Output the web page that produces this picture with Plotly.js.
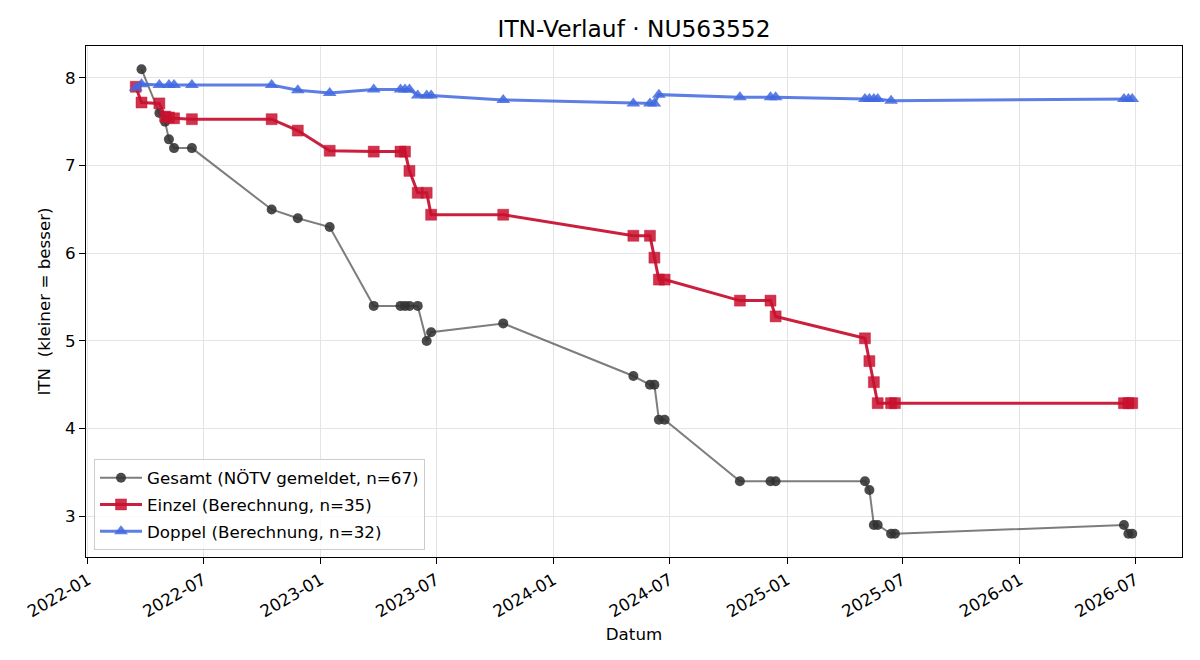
<!DOCTYPE html>
<html>
<head>
<meta charset="utf-8">
<script src="https://cdn.plot.ly/plotly-3.0.1.min.js"></script>
<style>
  html, body { margin: 0; padding: 0; background: #fff; }
  #chart { width: 1200px; height: 660px; }
</style>
</head>
<body>
<div id="chart"></div>
<script>
// ITN history: reported overall rating plus computed singles/doubles ratings.
// Note: gesamt* holds one entry per distinct date (34 points); same-day repeats
// behind the legend's n=67 are not listed, so the drawn line is unchanged.
const gesamtDates = [
  '2022-03-26','2022-04-23','2022-05-02','2022-05-08','2022-05-16','2022-06-13',
  '2022-10-16','2022-11-26','2023-01-15','2023-03-25','2023-05-06','2023-05-13',
  '2023-05-20','2023-06-02','2023-06-16','2023-06-23','2023-10-14','2024-05-05',
  '2024-05-31','2024-06-07','2024-06-14','2024-06-23','2024-10-19','2024-12-06',
  '2024-12-14','2025-05-03','2025-05-10','2025-05-17','2025-05-23','2025-06-13',
  '2025-06-19','2026-06-13','2026-06-20','2026-06-26'
];
const gesamtItn = [
  8.1, 7.6, 7.5, 7.3, 7.2, 7.2,
  6.5, 6.4, 6.3, 5.4, 5.4, 5.4,
  5.4, 5.4, 5.0, 5.1, 5.2, 4.6,
  4.5, 4.5, 4.1, 4.1, 3.4, 3.4,
  3.4, 3.4, 3.3, 2.9, 2.9, 2.8,
  2.8, 2.9, 2.8, 2.8
];

const einzelDates = [
  '2022-03-17','2022-03-26','2022-04-23','2022-05-02','2022-05-08','2022-05-16',
  '2022-06-13','2022-10-16','2022-11-26','2023-01-15','2023-03-25','2023-05-06',
  '2023-05-13','2023-05-20','2023-06-02','2023-06-16','2023-06-23','2023-10-14',
  '2024-05-05','2024-05-31','2024-06-07','2024-06-14','2024-06-23','2024-10-19',
  '2024-12-06','2024-12-14','2025-05-03','2025-05-10','2025-05-17','2025-05-23',
  '2025-06-13','2025-06-19','2026-06-13','2026-06-20','2026-06-26'
];
const einzelItn = [
  7.90, 7.72, 7.71, 7.56, 7.55, 7.54,
  7.53, 7.53, 7.40, 7.17, 7.16, 7.16,
  7.16, 6.94, 6.69, 6.69, 6.44, 6.44,
  6.20, 6.20, 5.95, 5.70, 5.70, 5.46,
  5.46, 5.28, 5.03, 4.77, 4.53, 4.29,
  4.29, 4.29, 4.29, 4.29, 4.29
];

const doppelDates = [
  '2022-03-17','2022-03-26','2022-04-23','2022-05-08','2022-05-16','2022-06-13',
  '2022-10-16','2022-11-26','2023-01-15','2023-03-25','2023-05-06','2023-05-13',
  '2023-05-20','2023-06-02','2023-06-16','2023-06-23','2023-10-14','2024-05-05',
  '2024-05-31','2024-06-07','2024-06-14','2024-10-19','2024-12-06','2024-12-14',
  '2025-05-03','2025-05-10','2025-05-17','2025-05-23','2025-06-13','2026-06-13',
  '2026-06-20','2026-06-26'
];
const doppelItn = [
  7.89, 7.93, 7.92, 7.92, 7.92, 7.92,
  7.92, 7.86, 7.83, 7.87, 7.87, 7.87,
  7.87, 7.80, 7.80, 7.80, 7.75, 7.71,
  7.71, 7.71, 7.81, 7.78, 7.78, 7.78,
  7.76, 7.76, 7.76, 7.76, 7.74, 7.76,
  7.76, 7.76
];

const seriesNames = [
  'Gesamt (NÖTV gemeldet, n=67)',
  'Einzel (Berechnung, n=35)',
  'Doppel (Berechnung, n=32)'
];

const FONT = 'DejaVu Sans, sans-serif';
const BASE = 16.7;

const traces = [
  {
    x: gesamtDates, y: gesamtItn, name: seriesNames[0], legendgroup: 'g',
    type: 'scatter', mode: 'lines+markers',
    line: { color: 'rgba(70,70,70,0.7)', width: 2 },
    marker: { symbol: 'circle', size: 10, color: 'rgba(50,50,50,0.88)' }
  },
  {
    x: einzelDates, y: einzelItn, name: seriesNames[1], legendgroup: 'e',
    type: 'scatter', mode: 'lines+markers',
    line: { color: 'rgb(202,32,62)', width: 3 },
    marker: { symbol: 'square', size: 11, color: 'rgba(200,16,46,0.85)',
              line: { color: 'rgba(200,16,46,0.9)', width: 0.5 } }
  },
  {
    x: doppelDates, y: doppelItn, name: seriesNames[2], legendgroup: 'd',
    type: 'scatter', mode: 'lines+markers',
    line: { color: 'rgba(65,105,225,0.85)', width: 3 },
    marker: { symbol: 'triangle-up', size: 12, color: 'rgba(65,105,225,0.85)' }
  }
];

const layout = {
  width: 1200, height: 660,
  margin: { l: 86, r: 18, t: 46, b: 103 },
  paper_bgcolor: '#ffffff', plot_bgcolor: '#ffffff',
  font: { family: FONT, size: BASE, color: '#000' },
  title: { text: 'ITN-Verlauf · NU563552', font: { family: FONT, size: 23.3, color: '#000' },
           xref: 'paper', x: 0.5, xanchor: 'center', y: 0.956, yanchor: 'middle' },
  showlegend: true,
  legend: {
    x: 0.0073, y: 0.013, xanchor: 'left', yanchor: 'bottom',
    bgcolor: 'rgba(255,255,255,0.8)', bordercolor: '#cccccc', borderwidth: 1,
    font: { family: FONT, size: BASE, color: '#000' },
    itemwidth: 42,
    traceorder: 'grouped', tracegroupgap: 2
  },
  xaxis: {
    type: 'date',
    range: ['2021-12-29', '2026-09-12'],
    tick0: '2022-01-01', dtick: 'M6', tickformat: '%Y-%m',
    tickangle: -30,
    ticks: 'outside', ticklen: 6, tickwidth: 1, tickcolor: '#000',
    showline: true, linecolor: '#000', linewidth: 1, mirror: true,
    showgrid: true, gridcolor: '#e4e4e4', gridwidth: 1,
    zeroline: false,
    tickfont: { family: FONT, size: BASE, color: '#000' },
    title: { text: 'Datum', font: { family: FONT, size: BASE, color: '#000' }, standoff: 8 }
  },
  yaxis: {
    range: [2.535, 8.365],
    tick0: 3, dtick: 1,
    ticks: 'outside', ticklen: 6, tickwidth: 1, tickcolor: '#000',
    showline: true, linecolor: '#000', linewidth: 1, mirror: true,
    showgrid: true, gridcolor: '#e4e4e4', gridwidth: 1,
    zeroline: false,
    tickfont: { family: FONT, size: BASE, color: '#000' },
    title: { text: 'ITN  (kleiner = besser)', font: { family: FONT, size: BASE, color: '#000' }, standoff: 10 }
  }
};

Plotly.newPlot('chart', traces, layout, { displayModeBar: false, staticPlot: true });
</script>
</body>
</html>
